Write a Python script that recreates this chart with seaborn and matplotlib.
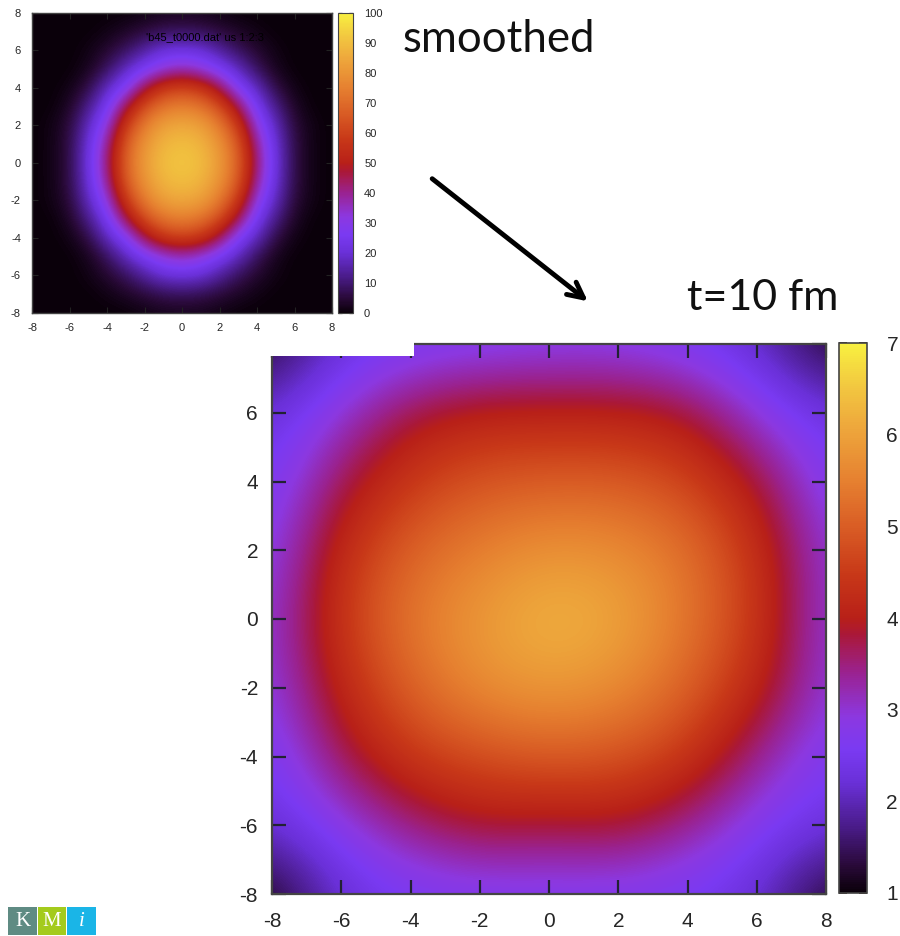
import numpy as np
import matplotlib
matplotlib.use("Agg")
import matplotlib.pyplot as plt
from matplotlib.colors import LinearSegmentedColormap
from matplotlib.patches import Rectangle, FancyArrowPatch
import seaborn as sns

# values, rows go from y=8 (top) down to y=-8
axis_ticks = [-8, -6, -4, -2, 0, 2, 4, 6, 8]

# initial profile, 1 fm grid (x = -8..8)
small_grid = [
    [0, 0, 0, 0, 0, 0, 1, 2, 2, 2, 1, 0, 0, 0, 0, 0, 0],
    [0, 0, 0, 0, 1, 3, 5, 7, 8, 7, 5, 3, 1, 0, 0, 0, 0],
    [0, 0, 0, 1, 4, 8, 14, 20, 21, 20, 14, 8, 4, 1, 0, 0, 0],
    [0, 0, 0, 2, 8, 17, 25, 32, 36, 32, 25, 17, 8, 2, 0, 0, 0],
    [0, 0, 1, 6, 17, 27, 45, 57, 60, 57, 45, 27, 17, 6, 1, 0, 0],
    [0, 0, 3, 12, 24, 45, 63, 72, 75, 72, 63, 45, 24, 12, 3, 0, 0],
    [0, 1, 5, 17, 32, 58, 74, 83, 85, 83, 74, 58, 32, 17, 5, 1, 0],
    [0, 1, 6, 20, 39, 66, 80, 88, 90, 88, 80, 66, 39, 20, 6, 1, 0],
    [0, 1, 6, 21, 42, 68, 82, 90, 92, 90, 82, 68, 42, 21, 6, 1, 0],
    [0, 1, 6, 20, 39, 66, 80, 88, 90, 88, 80, 66, 39, 20, 6, 1, 0],
    [0, 1, 5, 17, 32, 58, 74, 83, 85, 83, 74, 58, 32, 17, 5, 1, 0],
    [0, 0, 3, 12, 24, 45, 63, 72, 75, 72, 63, 45, 24, 12, 3, 0, 0],
    [0, 0, 1, 6, 17, 27, 45, 57, 60, 57, 45, 27, 17, 6, 1, 0, 0],
    [0, 0, 0, 2, 8, 17, 25, 32, 36, 32, 25, 17, 8, 2, 0, 0, 0],
    [0, 0, 0, 1, 4, 8, 14, 20, 21, 20, 14, 8, 4, 1, 0, 0, 0],
    [0, 0, 0, 0, 1, 3, 5, 7, 8, 7, 5, 3, 1, 0, 0, 0, 0],
    [0, 0, 0, 0, 0, 0, 1, 2, 2, 2, 1, 0, 0, 0, 0, 0, 0],
]

# t = 10 fm, 2 fm grid (x = -8..8)
big_grid = [
    [1.2, 2.2, 2.5, 2.6, 2.7, 2.7, 2.5, 2.1, 1.2],
    [2.2, 3.0, 3.8, 4.1, 4.1, 4.1, 3.9, 2.9, 2.3],
    [2.5, 3.7, 4.5, 4.9, 5.0, 5.0, 4.7, 3.9, 2.6],
    [2.7, 4.3, 5.1, 5.5, 5.8, 5.7, 5.3, 4.4, 2.9],
    [2.9, 4.5, 5.4, 5.9, 6.3, 6.1, 5.4, 4.5, 2.9],
    [2.8, 4.2, 5.1, 5.7, 5.9, 5.7, 5.1, 4.2, 2.9],
    [2.5, 3.7, 4.5, 4.8, 5.0, 4.9, 4.5, 3.4, 2.6],
    [2.2, 2.8, 3.5, 3.9, 3.8, 3.9, 3.4, 2.7, 2.3],
    [1.1, 2.2, 2.5, 2.6, 2.6, 2.6, 2.5, 2.2, 1.2],
]

small_cbar_ticks = list(range(0, 101, 10))
big_cbar_ticks = [1, 2, 3, 4, 5, 6, 7]

sns.set_style("white")
plt.rcParams['font.family'] = ['Liberation Sans', 'DejaVu Sans']
plt.rcParams['axes.unicode_minus'] = False

# gnuplot-like palette as it looks in the slide (a bit washed out)
stops = [(0.0, '#0a000a'), (0.05, '#2a0a3a'), (0.12, '#4a1c8a'), (0.2, '#6a30d8'),
         (0.26, '#7a3af2'), (0.32, '#8c38e0'), (0.4, '#9a2290'), (0.47, '#aa1838'),
         (0.5, '#b82018'), (0.58, '#c83818'), (0.66, '#d85a24'), (0.75, '#e68030'),
         (0.85, '#eea83c'), (0.92, '#f2c640'), (1.0, '#f8f040')]
cmap = LinearSegmentedColormap.from_list("gp", stops)

fig = plt.figure(figsize=(9, 9.36), dpi=100)
W, H = 900.0, 936.0


def box(x0, y0, x1, y1):
    # pixel box -> figure fraction
    return [x0 / W, 1 - y1 / H, (x1 - x0) / W, (y1 - y0) / H]


# big map
ax = fig.add_axes(box(272, 344, 826, 894))
im = ax.imshow(np.array(big_grid), cmap=cmap, vmin=1, vmax=7, extent=(-9, 9, -9, 9),
               interpolation='bicubic', aspect='auto')
ax.set_xlim(-8, 8)
ax.set_ylim(-8, 8)
ax.set_xticks(axis_ticks)
ax.set_yticks(axis_ticks)
ax.tick_params(direction='in', top=True, right=True, bottom=True, left=True,
               length=10, width=1.6, color='#222233', labelsize=15, pad=10)
ax.tick_params(axis='x', pad=13)
for s in ax.spines.values():
    s.set_color('#444444')
    s.set_linewidth(1.6)

cax = fig.add_axes(box(839, 343, 867, 893))
cb = fig.colorbar(im, cax=cax, ticks=big_cbar_ticks)
cax.tick_params(direction='in', left=True, right=True, length=6, width=1.4,
                color='#3a2a20', labelsize=15, pad=14)
cb.outline.set_edgecolor('#444444')
cb.outline.set_linewidth(1.2)

# white backdrop of the pasted small picture
fig.add_artist(Rectangle((0, 1 - 356 / H), 414 / W, 356 / H, transform=fig.transFigure,
                         facecolor='white', edgecolor='none', zorder=1))

# small map
ax2 = fig.add_axes(box(32, 12.7, 332, 313))
ax2.set_zorder(2)
im2 = ax2.imshow(np.array(small_grid), cmap=cmap, vmin=0, vmax=100,
                 extent=(-8.5, 8.5, -8.5, 8.5), interpolation='bicubic', aspect='auto')
ax2.set_xlim(-8, 8)
ax2.set_ylim(-8, 8)
ax2.set_xticks(axis_ticks)
ax2.set_yticks(axis_ticks)
ax2.tick_params(direction='in', top=True, right=True, bottom=True, left=True,
                length=4, width=0.8, color='#222222', labelsize=8, pad=8)
ax2.tick_params(axis='x', pad=7)
for s in ax2.spines.values():
    s.set_color('#444444')
    s.set_linewidth(1.0)
ax2.text(0.38, 0.91, "'b45_t0000.dat' us 1:2:3", transform=ax2.transAxes,
         fontsize=8, color='black')

cax2 = fig.add_axes(box(338, 12.7, 353, 313))
cax2.set_zorder(2)
cb2 = fig.colorbar(im2, cax=cax2, ticks=small_cbar_ticks)
cax2.tick_params(direction='in', left=True, right=True, length=3, width=0.9,
                 color='#3a2a20', labelsize=8, pad=8)
cb2.outline.set_edgecolor('#444444')
cb2.outline.set_linewidth(0.8)

# annotations
fig.text(403 / W, 1 - 52 / H, "smoothed", fontsize=31.5, family=['Lato', 'DejaVu Sans'],
         ha='left', va='baseline', color='#111111')
fig.text(687 / W, 1 - 310 / H, "t=10 fm", fontsize=31, family=['Lato', 'DejaVu Sans'],
         ha='left', va='baseline', color='#111111')
fig.add_artist(FancyArrowPatch((430 / W, 1 - 177 / H), (590 / W, 1 - 303 / H),
                               transform=fig.transFigure, arrowstyle='->',
                               mutation_scale=28, lw=3.5, color='black'))

# KMi logo
logo = [("K", '#5f8b83', 8, 37, 'normal'), ("M", '#a4cb1d', 38, 66, 'normal'),
        ("i", '#1ab5e7', 67, 96, 'italic')]
for letter, col, x0, x1, st in logo:
    fig.add_artist(Rectangle((x0 / W, 1 - 935 / H), (x1 - x0) / W, 28 / H,
                             transform=fig.transFigure, facecolor=col, edgecolor='none'))
    fig.text((x0 + x1) / 2 / W, 1 - 921 / H, letter, color='white', fontsize=15,
             family=['Liberation Serif', 'DejaVu Serif'], style=st, ha='center', va='center')

fig.savefig("out.png", dpi=100)
